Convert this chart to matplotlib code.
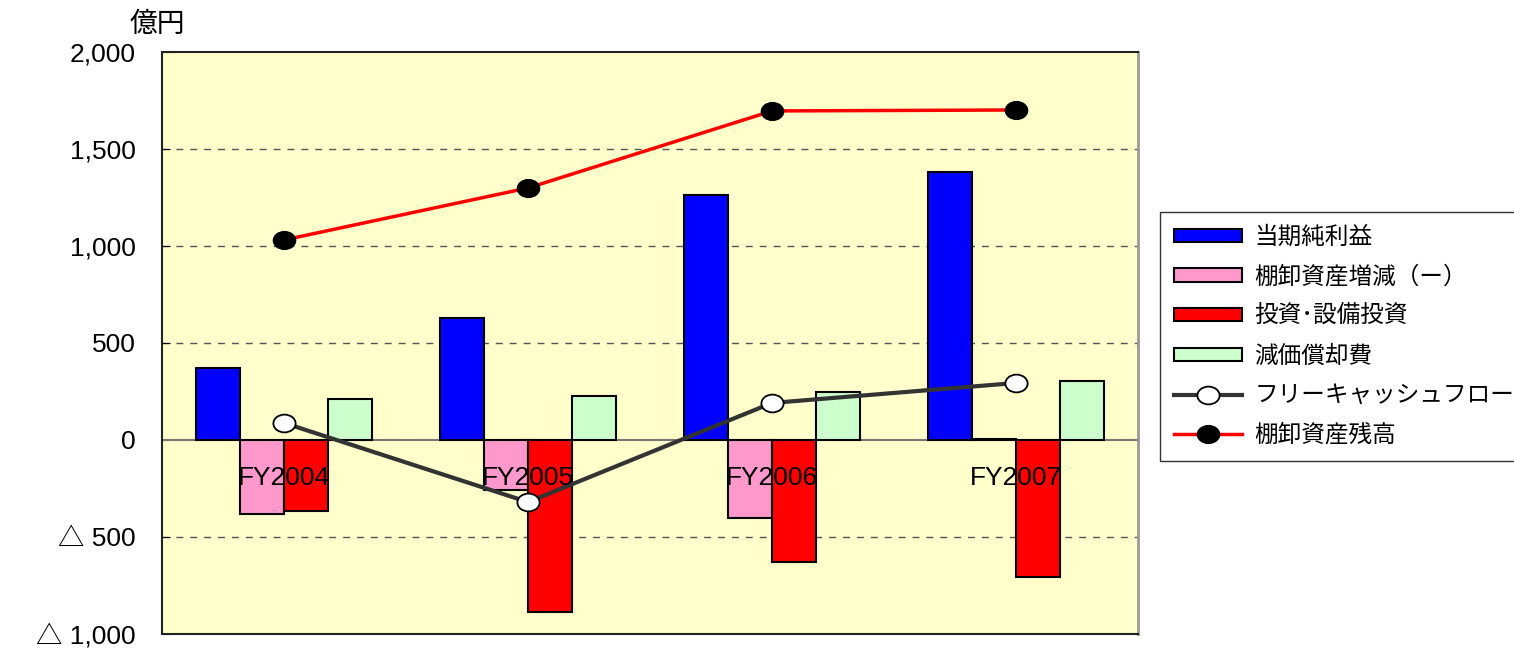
import matplotlib
matplotlib.use('Agg')
import matplotlib.pyplot as plt
from matplotlib.path import Path
from matplotlib.transforms import Affine2D
import numpy as np

# data (億円)
years = ['FY2004', 'FY2005', 'FY2006', 'FY2007']
netIncome = [371, 629, 1263, 1381]
inventoryChange = [-381, -258, -402, 4]
investment = [-366, -887, -629, -706]
depreciation = [211, 227, 247, 304]
freeCashFlow = [88, -320, 191, 294]
inventoryBalance = [1031, 1299, 1696, 1701]

barNames = ['当期純利益', '棚卸資産増減（ー）', '投資･設備投資', '減価償却費']
barColors = ['#0000FF', '#FF99CC', '#FF0000', '#CCFFCC']
lineNames = ['フリーキャッシュフロー', '棚卸資産残高']

yTicks = [-1000, -500, 0, 500, 1000, 1500, 2000]
yTickLabels = ['△ 1,000', '△ 500', '0', '500', '1,000', '1,500', '2,000']

jpFont = ['Noto Sans CJK JP', 'DejaVu Sans']
numFont = ['Liberation Sans', 'Noto Sans CJK JP', 'DejaVu Sans']

# slightly wide oval marker like the original
oval = Path.unit_circle().transformed(Affine2D().scale(1.25, 1.0))

fig = plt.figure(figsize=(15.14, 6.48), dpi=100)
ax = fig.add_axes([0.107, 0.0216, 0.6447, 0.8982])
ax.set_facecolor('#FFFFCC')

x = np.arange(len(years))
w = 0.181
series = [netIncome, inventoryChange, investment, depreciation]
handles = []
for i, vals in enumerate(series):
    b = ax.bar(x + (i - 1.5) * w, vals, w, color=barColors[i], edgecolor='black',
               linewidth=1.5, label=barNames[i], zorder=3)
    handles.append(b)

l1, = ax.plot(x, freeCashFlow, color='#333333', linewidth=3, marker=oval, markersize=16,
              markerfacecolor='white', markeredgecolor='black', markeredgewidth=1.3,
              label=lineNames[0], zorder=5)
l2, = ax.plot(x, inventoryBalance, color='#FF0000', linewidth=2.5, marker=oval, markersize=16,
              markerfacecolor='black', markeredgecolor='black', label=lineNames[1], zorder=5)
handles += [l1, l2]

ax.set_xlim(-0.5, 3.5)
ax.set_ylim(-1000, 2000)
for yv in [-500, 500, 1000, 1500]:
    ax.axhline(yv, color='#555555', linestyle=(0, (5, 5)), linewidth=1, zorder=1)
ax.axhline(0, color='#777777', linewidth=1.5, zorder=2)

ax.set_yticks(yTicks)
ax.set_yticklabels(yTickLabels, family=numFont, fontsize=19)
ax.tick_params(axis='y', direction='in', length=6, pad=19)
ax.set_xticks([])

for s in ['left', 'top', 'bottom']:
    ax.spines[s].set_color('#222222')
    ax.spines[s].set_linewidth(1.5)
ax.spines['right'].set_color('#999999')
ax.spines['right'].set_linewidth(2)

for xi, name in zip(x, years):
    ax.text(xi, -195, name, ha='center', va='center', fontsize=19, family=numFont, zorder=6)

fig.text(0.1037, 0.963, '億円', ha='center', va='center', fontsize=20, family=jpFont)

leg = fig.legend(handles=handles, labels=barNames + lineNames, loc='upper left',
                 bbox_to_anchor=(0.766, 0.673), borderaxespad=0, prop={'family': jpFont, 'size': 17},
                 frameon=True, fancybox=False, edgecolor='black', handlelength=2.9,
                 handleheight=0.5, labelspacing=0.7, borderpad=0.6, handletextpad=0.5)
leg.get_frame().set_linewidth(1)

fig.savefig('out.png', dpi=100, facecolor='white')
